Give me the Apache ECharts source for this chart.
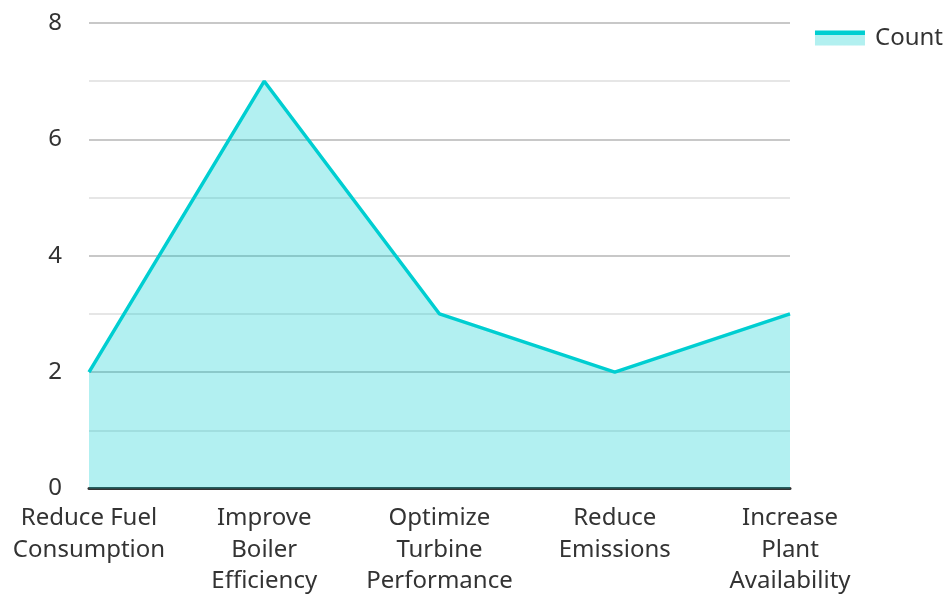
<!DOCTYPE html>
<html>
<head>
<meta charset="utf-8">
<script src="https://cdn.jsdelivr.net/npm/echarts@6/dist/echarts.min.js"></script>
<style>
html,body{margin:0;padding:0;background:#fff;}
#chart{width:948px;height:597px;}
</style>
</head>
<body>
<div id="chart"></div>
<script>
// Improvement goals and how often each was named
const categories = [
  'Reduce Fuel\nConsumption',
  'Improve\nBoiler\nEfficiency',
  'Optimize\nTurbine\nPerformance',
  'Reduce\nEmissions',
  'Increase\nPlant\nAvailability'
];
const countValues = [2, 7, 3, 2, 3];
const seriesName = 'Count';

const lineColor = '#00CED1';
const areaColor = '#b2f0f0';
const textColor = '#333';
const fontFamily = '"Noto Sans", "Open Sans", sans-serif';

// Legend swatch: a line stripe on top of the area tint
const legendSwatch = new echarts.graphic.LinearGradient(0, 0, 0, 1, [
  { offset: 0, color: lineColor },
  { offset: 0.27, color: lineColor },
  { offset: 0.27, color: areaColor },
  { offset: 1, color: areaColor }
]);

const chart = echarts.init(document.getElementById('chart'), null, { renderer: 'canvas' });
chart.setOption({
  animation: false,
  backgroundColor: '#fff',
  textStyle: { fontFamily: fontFamily },
  legend: {
    data: [{ name: seriesName, icon: 'rect', itemStyle: { color: legendSwatch } }],
    right: 0,
    top: 21,
    itemWidth: 50,
    itemHeight: 15,
    itemGap: 10,
    textStyle: { fontSize: 24, color: textColor, fontFamily: fontFamily, padding: [0, 0, 0, 5] }
  },
  grid: { left: 89, right: 158, top: 23, bottom: 107, containLabel: false },
  xAxis: {
    type: 'category',
    data: categories,
    boundaryGap: false,
    axisLine: { show: true, lineStyle: { color: '#333', width: 3 } },
    axisTick: { show: false },
    axisLabel: {
      interval: 0,
      fontSize: 24,
      lineHeight: 31.5,
      color: textColor,
      margin: 14,
      fontFamily: fontFamily
    },
    splitLine: { show: false }
  },
  yAxis: {
    type: 'value',
    min: 0,
    max: 8,
    interval: 2,
    axisLine: { show: false },
    axisTick: { show: false },
    axisLabel: { fontSize: 24, color: textColor, margin: 27, fontFamily: fontFamily },
    splitLine: { show: true, lineStyle: { color: '#c8c8c8', width: 2 } },
    minorTick: { show: false, splitNumber: 2 },
    minorSplitLine: { show: true, lineStyle: { color: '#e6e6e6', width: 2 } }
  },
  series: [{
    name: seriesName,
    type: 'line',
    data: countValues,
    symbol: 'none',
    lineStyle: { color: lineColor, width: 3.5 },
    itemStyle: { color: lineColor },
    areaStyle: { color: lineColor, opacity: 0.3 }
  }]
});
</script>
</body>
</html>
